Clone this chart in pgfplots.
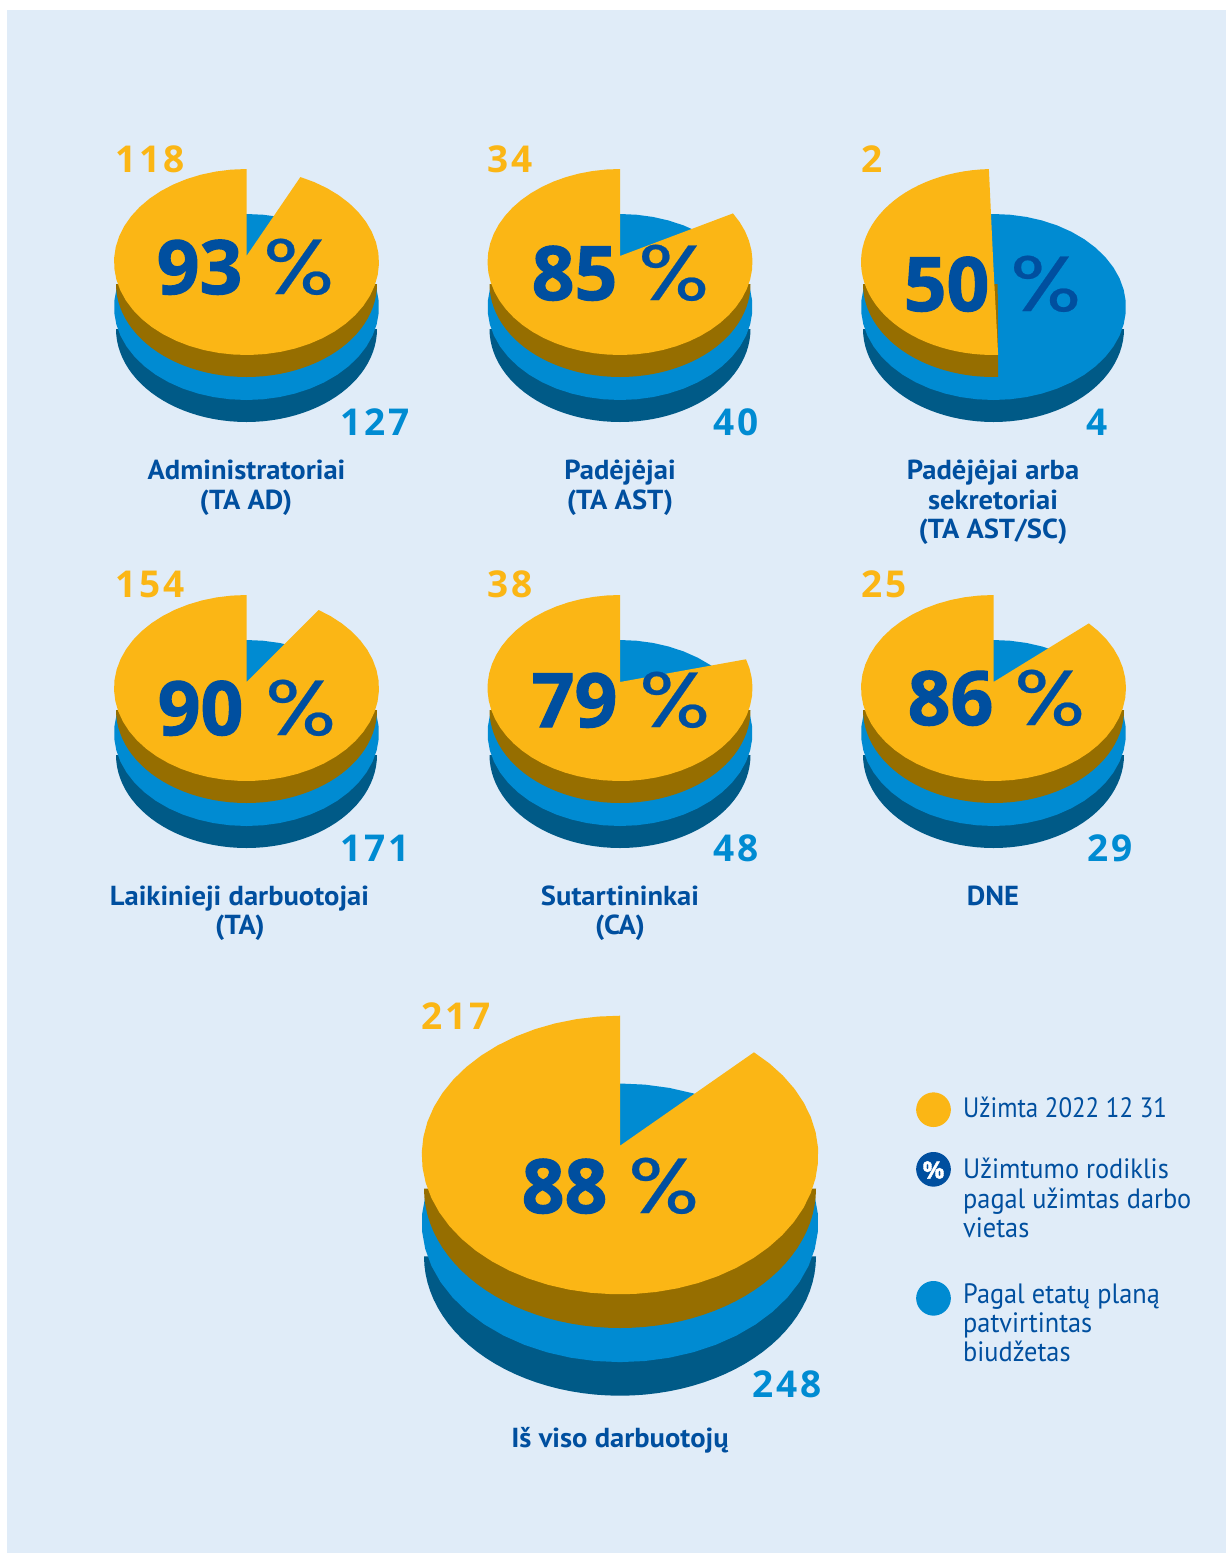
\documentclass[border=0pt]{standalone}
\usepackage{pgfplots}
\usepackage{pgfplotstable}
\usepackage{fontspec}
\pgfplotsset{compat=1.18}
\setmainfont{PT Sans}
\newfontfamily\numf[LetterSpace=8]{Open Sans}
\newfontfamily\pctf[FakeBold=1.5]{Open Sans}
\newfontfamily\pcsf[FakeStretch=1.2,FakeBold=0.3]{Poppins}
\newfontfamily\labf[FakeStretch=1.04]{PT Sans}
\newfontfamily\legf[FakeStretch=0.94]{PT Sans}
\newfontfamily\legg[FakeStretch=0.89]{PT Sans}
\definecolor{bgc}{HTML}{E0ECF8}
\definecolor{ye}{HTML}{FBB615}
\definecolor{dye}{HTML}{966E00}
\definecolor{bl}{HTML}{008BD2}
\definecolor{dbl}{HTML}{005A87}
\definecolor{navy}{HTML}{004F9F}
% parameter of the outline (share of the arc) and f=0 for the closing apex
\pgfplotstableread{
t f
0.00 1
0.02 1
0.04 1
0.06 1
0.08 1
0.10 1
0.12 1
0.14 1
0.16 1
0.18 1
0.20 1
0.22 1
0.24 1
0.26 1
0.28 1
0.30 1
0.32 1
0.34 1
0.36 1
0.38 1
0.40 1
0.42 1
0.44 1
0.46 1
0.48 1
0.50 1
0.52 1
0.54 1
0.56 1
0.58 1
0.60 1
0.62 1
0.64 1
0.66 1
0.68 1
0.70 1
0.72 1
0.74 1
0.76 1
0.78 1
0.80 1
0.82 1
0.84 1
0.86 1
0.88 1
0.90 1
0.92 1
0.94 1
0.96 1
0.98 1
1.00 1
1.00 0
}\secT
% #1 a0, #2 a1, #3 cx, #4 cy, #5 rx, #6 ry, #7 apex x, #8 apex y, #9 colour
\newcommand{\sector}[9]{%
\addplot[fill=#9,draw=none,no marks] table[
 x expr={\thisrow{f}*((#3)+(#5)*sin(#1+(#2-#1)*\thisrow{t}))+(1-\thisrow{f})*(#7)},
 y expr={\thisrow{f}*((#4)-(#6)*cos(#1+(#2-#1)*\thisrow{t}))+(1-\thisrow{f})*(#8)}
 ] {\secT};}
\newcommand{\layers}[2]{%
\sector{90}{270}{#1}{#2+67}{130.5}{93}{#1}{#2+67}{dbl}%
\sector{0}{360}{#1}{#2+45}{132.5}{93}{#1}{#2-48}{bl}}
% small pie: cx, cy, gap angle, apex y
\newcommand{\smallpie}[4]{%
\layers{#1}{#2}%
\sector{90}{270}{#1}{#2+22}{130.5}{93}{#1}{#2+22}{dye}%
\sector{#3}{360}{#1}{#2}{132.5}{93}{#1}{#4}{ye}}
\newcommand{\occ}[3]{\node[anchor=base west,inner sep=0pt,text=ye,font=\numf\bfseries\fontsize{37}{37}\selectfont] at (axis cs:#1,#2) {#3};}
\newcommand{\bud}[3]{\node[anchor=base west,inner sep=0pt,text=bl,font=\numf\bfseries\fontsize{37}{37}\selectfont] at (axis cs:#1,#2) {#3};}
% x of digits, baseline, digits, x of the percent sign
\newcommand{\pct}[4]{\node[anchor=base west,inner sep=0pt,text=navy,font=\pctf\bfseries\fontsize{75}{75}\selectfont] at (axis cs:#1,#2) {#3};
\node[anchor=base west,inner sep=0pt,text=navy,font=\pcsf\fontsize{78}{78}\selectfont] at (axis cs:#4,#2) {\%};}
\newcommand{\lab}[3]{\node[anchor=base,inner sep=0pt,text=navy,font=\labf\bfseries\fontsize{27.5}{27.5}\selectfont] at (axis cs:#1,#2) {#3};}
\newcommand{\leg}[2]{\node[anchor=base west,inner sep=0pt,text=navy,font=\legf\fontsize{28}{28}\selectfont] at (axis cs:963,#1) {#2};}
\begin{document}
\begin{tikzpicture}
\begin{axis}[at={(0,0)},anchor=south west,x=1pt,y=1pt,xmin=0,xmax=1226,ymin=0,ymax=1553,y dir=reverse,hide axis,clip=false]
\addplot[fill=white,draw=none,no marks] coordinates {(0,0) (1226,0) (1226,1553) (0,1553)};
\addplot[fill=bgc,draw=none,no marks] coordinates {(7,9.5) (1226,9.5) (1226,1553) (7,1553)};
\smallpie{246.5}{262}{24}{256}
\smallpie{620}{262}{58.5}{256}
\layers{993.5}{262}
\sector{178}{270}{993.5}{284}{130.5}{93}{997.7}{284}{dye}
\sector{178}{358}{993.5}{262}{132.5}{93}{993.2}{262}{ye}
\smallpie{246.5}{688}{33}{682}
\smallpie{620}{688}{72}{682}
\smallpie{993.5}{688}{46}{682}
% large pie
\sector{90}{270}{620}{1256.4}{196}{139.3}{620}{1256.4}{dbl}
\sector{0}{360}{620}{1222.8}{198.3}{139.3}{620}{1083.5}{bl}
\sector{90}{270}{620}{1188.7}{196}{139.3}{620}{1188.7}{dye}
\sector{42.5}{360}{620}{1155}{198.3}{139.3}{620}{1145.7}{ye}
% legend keys
\sector{0}{360}{933.5}{1109.7}{17.3}{17.3}{933.5}{1092.4}{ye}
\sector{0}{360}{933.5}{1169.3}{17.3}{17.3}{933.5}{1152}{navy}
\sector{0}{360}{933.5}{1298.3}{17.3}{17.3}{933.5}{1281}{bl}
\node[text=white,inner sep=0pt,font=\pctf\bfseries\fontsize{24}{24}\selectfont] at (axis cs:933.5,1170) {\%};
% numbers
\occ{115}{172}{118}\occ{487}{172}{34}\occ{861}{172}{2}
\occ{115}{597}{154}\occ{487}{597}{38}\occ{861}{597}{25}
\occ{421}{1029}{217}
\bud{340}{435}{127}\bud{713}{435}{40}\bud{1086}{435}{4}
\bud{340}{861}{171}\bud{713}{861}{48}\bud{1087}{861}{29}
\bud{752}{1397}{248}
\pct{156.5}{294}{93}{263}\pct{531.5}{300}{85}{638}\pct{903.5}{311}{50}{1010}
\pct{157.5}{735}{90}{265}\pct{531.5}{727}{79}{639}\pct{907.5}{725}{86}{1014}
\pct{521.5}{1213}{88}{628}
% category labels
\lab{246.5}{479}{Administratoriai}\lab{246}{509}{(TA AD)}
\lab{620}{479}{Padėjėjai}\lab{620}{509}{(TA AST)}
\lab{993}{479}{Padėjėjai arba}\lab{993}{509}{sekretoriai}\lab{993}{538}{(TA AST/SC)}
\lab{239.5}{905}{Laikinieji darbuotojai}\lab{240}{934}{(TA)}
\lab{620}{905}{Sutartininkai}\lab{620}{934}{(CA)}
\lab{993}{905}{DNE}
\lab{620}{1447}{Iš viso darbuotojų}
% legend texts
\node[anchor=base west,inner sep=0pt,text=navy,font=\legg\fontsize{28}{28}\selectfont] at (axis cs:963,1117) {Užimta 2022 12 31};
\leg{1178.5}{Užimtumo rodiklis}\leg{1208}{pagal užimtas darbo}\leg{1237}{vietas}
\leg{1303}{Pagal etatų planą}\leg{1332}{patvirtintas}\leg{1361}{biudžetas}
\end{axis}
\end{tikzpicture}
\end{document}
